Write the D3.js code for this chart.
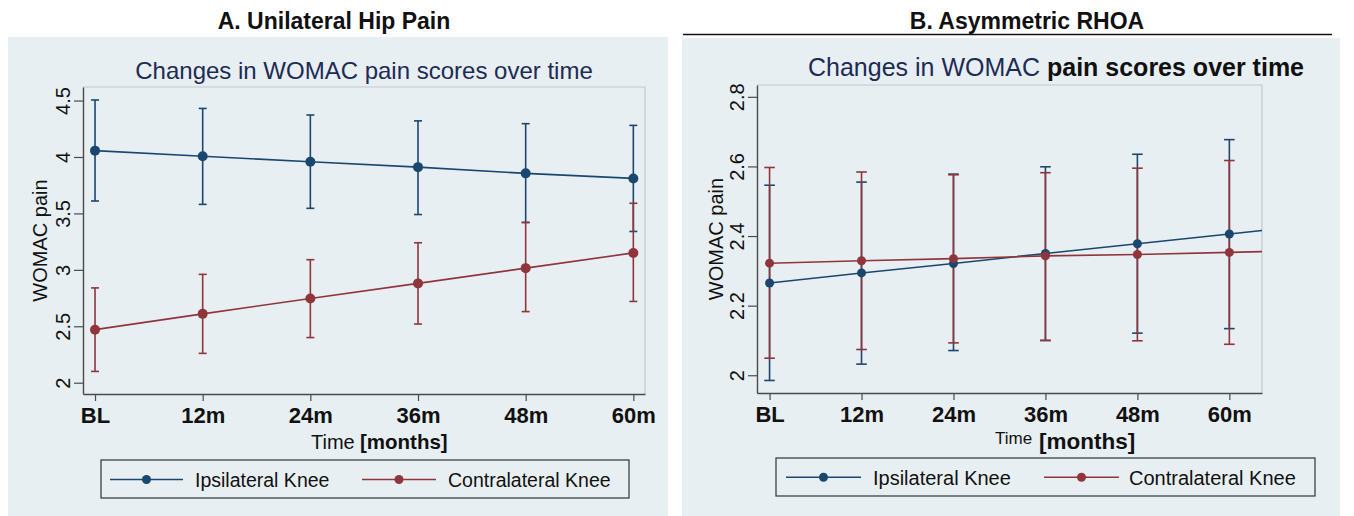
<!DOCTYPE html>
<html>
<head>
  <meta charset="utf-8">
  <title>WOMAC pain over time</title>
  <script src="https://d3js.org/d3.v7.min.js"></script>
  <style>
    body { margin: 0; background: #fff; }
    text { font-family: "Liberation Sans", Arial, Helvetica, sans-serif; }
  </style>
</head>
<body>
<div id="chart"></div>
<script type="text/javascript">
  // time points (months) and their tick labels
  let months = [0, 12, 24, 36, 48, 60];
  let monthLabels = ['BL', '12m', '24m', '36m', '48m', '60m'];
  let seriesNames = ['Ipsilateral Knee', 'Contralateral Knee'];

  // A. Unilateral hip pain
  let hipIpsiMean = [4.056, 4.006, 3.958, 3.910, 3.855, 3.810];
  let hipIpsiLow  = [3.610, 3.580, 3.545, 3.490, 3.420, 3.340];
  let hipIpsiHigh = [4.505, 4.430, 4.372, 4.320, 4.295, 4.280];
  let hipContraMean = [2.470, 2.610, 2.746, 2.880, 3.015, 3.150];
  let hipContraLow  = [2.100, 2.260, 2.400, 2.520, 2.630, 2.720];
  let hipContraHigh = [2.840, 2.960, 3.090, 3.240, 3.420, 3.590];
  let hipTicks = [2, 2.5, 3, 3.5, 4, 4.5];

  // B. Asymmetric RHOA
  let rhoaIpsiMean = [2.265, 2.294, 2.321, 2.350, 2.378, 2.406];
  let rhoaIpsiLow  = [1.985, 2.032, 2.071, 2.100, 2.121, 2.134];
  let rhoaIpsiHigh = [2.546, 2.555, 2.578, 2.599, 2.635, 2.677];
  let rhoaContraMean = [2.322, 2.329, 2.335, 2.343, 2.347, 2.353];
  let rhoaContraLow  = [2.049, 2.074, 2.093, 2.100, 2.099, 2.089];
  let rhoaContraHigh = [2.597, 2.584, 2.576, 2.582, 2.595, 2.617];
  let rhoaTicks = [2, 2.2, 2.4, 2.6, 2.8];

  let colors = ['#1a476f', '#90353b'];
  let bg = '#e8eff2';

  let svg = d3.select('#chart')
      .append('svg')
        .attr('width', 1354)
        .attr('height', 516);

  let panels = [
    {
      title: 'A. Unilateral Hip Pain', titleX: 334,
      box: {x: 8, y: 37, w: 660, h: 479},
      plot: {l: 83, t: 87, r: 645, b: 394},
      xDomain: [-1.34, 61.3], yDomain: [1.90, 4.62], ticks: hipTicks,
      series: [[hipIpsiMean, hipIpsiLow, hipIpsiHigh], [hipContraMean, hipContraLow, hipContraHigh]],
      r: 5, cap: 4, extend: false,
      sub: {x: 364, y: 79},
      yTitleX: 47,
      time: {x1: 311, y1: 449, s1: 20, x2: 360, y2: 449, s2: 20.5},
      legend: {x: 101, y: 460, w: 528, h: 38, cy: 479.5, base: 487, size: 19.5,
               items: [[110, 183, 195], [362, 436, 448]]}
    },
    {
      title: 'B. Asymmetric RHOA', titleX: 1027, rule: true,
      box: {x: 682, y: 38, w: 658, h: 478},
      plot: {l: 757, t: 85, r: 1262, b: 393},
      xDomain: [-1.64, 64.26], yDomain: [1.949, 2.834], ticks: rhoaTicks,
      series: [[rhoaIpsiMean, rhoaIpsiLow, rhoaIpsiHigh], [rhoaContraMean, rhoaContraLow, rhoaContraHigh]],
      r: 4.5, cap: 5.3, extend: true,
      sub: {x: 808, y: 76, split: true},
      yTitleX: 723,
      time: {x1: 995, y1: 444, s1: 17, x2: 1039, y2: 449, s2: 22.5},
      legend: {x: 776, y: 458, w: 539, h: 38, cy: 477.3, base: 484.5, size: 20,
               items: [[786, 861, 873], [1044, 1119, 1129]]}
    }
  ];

  panels.forEach(p => drawPanel(p));

  function drawPanel(p) {
    let g = svg.append('g');

    // background of the graph region
    g.append('rect')
      .attr('x', p.box.x).attr('y', p.box.y)
      .attr('width', p.box.w).attr('height', p.box.h)
      .attr('fill', bg);

    // panel heading
    g.append('text')
      .attr('x', p.titleX).attr('y', 29)
      .attr('text-anchor', 'middle')
      .attr('font-size', '23px').attr('font-weight', 'bold')
      .attr('fill', '#111')
      .text(p.title);
    if (p.rule) {
      g.append('line')
        .attr('x1', 683).attr('x2', 1332)
        .attr('y1', 34.5).attr('y2', 34.5)
        .attr('stroke', '#111').attr('stroke-width', 1.5);
    }

    // chart subtitle
    let sub = g.append('text')
      .attr('x', p.sub.x).attr('y', p.sub.y)
      .attr('font-size', p.sub.split ? '25px' : '24px')
      .attr('fill', '#1d2b55');
    if (p.sub.split) {
      sub.append('tspan').text('Changes in WOMAC ');
      sub.append('tspan').attr('font-weight', 'bold').attr('fill', '#111')
         .text('pain scores over time');
    } else {
      sub.attr('text-anchor', 'middle').text('Changes in WOMAC pain scores over time');
    }

    let x = d3.scaleLinear().domain(p.xDomain).range([p.plot.l, p.plot.r]);
    let y = d3.scaleLinear().domain(p.yDomain).range([p.plot.b, p.plot.t]);

    // light frame on top and right
    g.append('path')
      .attr('d', `M${p.plot.l},${p.plot.t}H${p.plot.r}V${p.plot.b}`)
      .attr('fill', 'none').attr('stroke', '#c3c8cb').attr('stroke-width', 1.2);

    // y axis, labels turned like Stata does
    let yAxis = d3.axisLeft(y).tickValues(p.ticks).tickSize(9).tickSizeOuter(0)
                  .tickFormat(d => String(d));
    let ya = g.append('g')
      .attr('transform', `translate(${p.plot.l},0)`)
      .call(yAxis);
    ya.selectAll('text')
      .attr('transform', 'rotate(-90)')
      .attr('x', 0).attr('y', -13).attr('dy', 0)
      .attr('text-anchor', 'middle')
      .attr('font-size', '20px').attr('fill', '#111');

    // x axis
    let xAxis = d3.axisBottom(x).tickValues(months).tickSize(7).tickSizeOuter(0)
                  .tickFormat((d, i) => monthLabels[i]);
    let xa = g.append('g')
      .attr('transform', `translate(0,${p.plot.b})`)
      .call(xAxis);
    xa.selectAll('text')
      .attr('y', 29).attr('dy', 0)
      .attr('font-size', '22px').attr('font-weight', 'bold').attr('fill', '#111');

    [ya, xa].forEach(a => {
      a.attr('font-family', null);
      a.select('.domain').attr('stroke', '#4a4a4a').attr('stroke-width', 1.4);
      a.selectAll('.tick line').attr('stroke', '#4a4a4a').attr('stroke-width', 1.2);
    });

    // axis titles
    g.append('text')
      .attr('transform', `translate(${p.yTitleX},${(p.plot.t + p.plot.b) / 2}) rotate(-90)`)
      .attr('text-anchor', 'middle')
      .attr('font-size', '20px').attr('fill', '#111')
      .text('WOMAC pain');
    g.append('text')
      .attr('x', p.time.x1).attr('y', p.time.y1)
      .attr('font-size', p.time.s1 + 'px').attr('fill', '#111')
      .text('Time');
    g.append('text')
      .attr('x', p.time.x2).attr('y', p.time.y2)
      .attr('font-size', p.time.s2 + 'px').attr('font-weight', 'bold').attr('fill', '#111')
      .text('[months]');

    // error bars (rcap)
    p.series.forEach(([mean, lo, hi], s) => {
      let eb = g.append('g').attr('stroke', colors[s]).attr('stroke-width', 1.6);
      eb.selectAll('line.v')
        .data(months)
        .enter()
        .append('line')
        .attr('x1', d => x(d)).attr('x2', d => x(d))
        .attr('y1', (d, i) => y(lo[i])).attr('y2', (d, i) => y(hi[i]));
      [lo, hi].forEach(arr => {
        eb.selectAll(null)
          .data(months)
          .enter()
          .append('line')
          .attr('x1', d => x(d) - p.cap).attr('x2', d => x(d) + p.cap)
          .attr('y1', (d, i) => y(arr[i])).attr('y2', (d, i) => y(arr[i]));
      });
    });

    // connecting lines
    let line = d3.line().x(d => x(d[0])).y(d => y(d[1]));
    p.series.forEach(([mean], s) => {
      let pts = months.map((m, i) => [m, mean[i]]);
      if (p.extend) {
        // carry the last segment on to the edge of the plot
        let n = pts.length;
        let slope = (pts[n - 1][1] - pts[n - 2][1]) / (pts[n - 1][0] - pts[n - 2][0]);
        let xe = p.xDomain[1];
        pts.push([xe, pts[n - 1][1] + slope * (xe - pts[n - 1][0])]);
      }
      g.append('path')
        .attr('d', line(pts))
        .attr('fill', 'none')
        .attr('stroke', colors[s]).attr('stroke-width', 1.6);
    });

    // markers
    p.series.forEach(([mean], s) => {
      g.selectAll(null)
        .data(months)
        .enter()
        .append('circle')
        .attr('cx', d => x(d))
        .attr('cy', (d, i) => y(mean[i]))
        .attr('r', p.r)
        .attr('fill', colors[s]);
    });

    // legend
    let L = p.legend;
    g.append('rect')
      .attr('x', L.x).attr('y', L.y).attr('width', L.w).attr('height', L.h)
      .attr('fill', 'none').attr('stroke', '#333').attr('stroke-width', 1.2);
    L.items.forEach(([x1, x2, tx], s) => {
      g.append('line')
        .attr('x1', x1).attr('x2', x2).attr('y1', L.cy).attr('y2', L.cy)
        .attr('stroke', colors[s]).attr('stroke-width', 1.5);
      g.append('circle')
        .attr('cx', (x1 + x2) / 2).attr('cy', L.cy).attr('r', 4.5)
        .attr('fill', colors[s]);
      g.append('text')
        .attr('x', tx).attr('y', L.base)
        .attr('font-size', L.size + 'px').attr('fill', '#111')
        .text(seriesNames[s]);
    });
  }
</script>
</body>
</html>
